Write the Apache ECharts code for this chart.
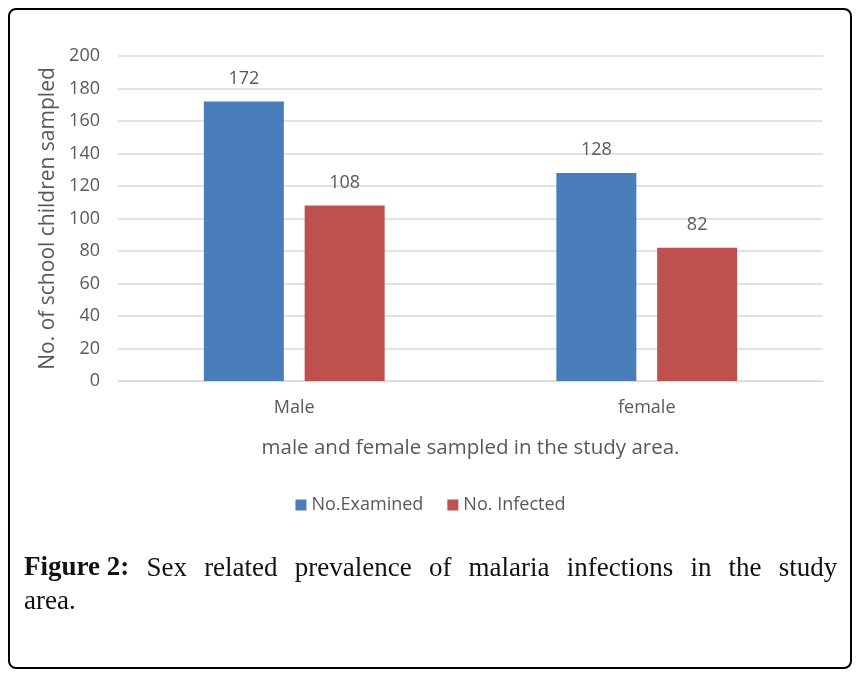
<!DOCTYPE html>
<html><head><meta charset="utf-8">
<script src="https://cdn.jsdelivr.net/npm/echarts@6/dist/echarts.min.js"></script>
<style>html,body{margin:0;padding:0;background:#fff}#c{width:861px;height:677px}</style>
</head><body><div id="c"></div>
<script>
const categories = ['Male', 'female'];
const seriesNames = ['No.Examined', 'No. Infected'];
const examined = [172, 128];
const infected = [108, 82];
const yTicks = [0, 20, 40, 60, 80, 100, 120, 140, 160, 180, 200];
const captionLine1 = ['Sex', 'related', 'prevalence', 'of', 'malaria', 'infections', 'in', 'the', 'study'];

const chart = echarts.init(document.getElementById('c'));
const txt = '#595959';
const font = 'Open Sans';
const sp = '{s| }';
chart.setOption({
  animation: false,
  backgroundColor: '#fff',
  grid: { left: 118, right: 38, top: 56, bottom: 296 },
  legend: {
    data: seriesNames, bottom: 158, left: 'center', itemWidth: 11, itemHeight: 11,
    itemGap: 24, icon: 'rect',
    textStyle: { color: txt, fontSize: 18, fontFamily: font }
  },
  xAxis: {
    type: 'category', data: categories,
    name: 'male and female sampled in the study area.', nameLocation: 'middle', nameGap: 57,
    nameTextStyle: { color: txt, fontSize: 20.5, fontFamily: font },
    axisLine: { lineStyle: { color: '#D9D9D9' } }, axisTick: { show: false },
    axisLabel: { color: txt, fontSize: 18, fontFamily: font, margin: 18 }
  },
  yAxis: {
    type: 'value', min: yTicks[0], max: yTicks[yTicks.length - 1], interval: 20,
    name: 'No. of school children sampled', nameLocation: 'middle', nameGap: 58,
    nameTextStyle: { color: txt, fontSize: 21, fontFamily: font },
    axisLine: { show: false }, axisTick: { show: false },
    splitLine: { lineStyle: { color: '#D9D9D9', width: 1.5 } },
    axisLabel: { color: txt, fontSize: 18, fontFamily: font, margin: 18 }
  },
  series: [
    { name: seriesNames[0], type: 'bar', data: examined, barWidth: 80, barGap: '26%',
      itemStyle: { color: '#4A7EBB' },
      label: { show: true, position: 'top', distance: 14, color: txt, fontSize: 18, fontFamily: font } },
    { name: seriesNames[1], type: 'bar', data: infected, barWidth: 80,
      itemStyle: { color: '#C0504D' },
      label: { show: true, position: 'top', distance: 14, color: txt, fontSize: 18, fontFamily: font } }
  ],
  graphic: [
    { type: 'rect', shape: { x: 9, y: 9, width: 842, height: 659, r: 7 },
      style: { fill: 'none', stroke: '#000', lineWidth: 2 }, silent: true },
    { type: 'text', left: 24, top: 555,
      style: { rich: { b: { fontWeight: 'bold', fontFamily: 'Liberation Serif', fontSize: 27, fill: '#111' },
                       n: { fontFamily: 'Liberation Serif', fontSize: 27, fill: '#111' },
                       s: { fontFamily: 'Liberation Serif', fontSize: 27, width: 17.2 } },
               text: '{b|Figure 2:}' + sp + captionLine1.map(w => '{n|' + w + '}').join(sp) } },
    { type: 'text', left: 24, top: 588,
      style: { text: 'area.', fontFamily: 'Liberation Serif', fontSize: 27, fill: '#111' } }
  ]
});
</script></body></html>
